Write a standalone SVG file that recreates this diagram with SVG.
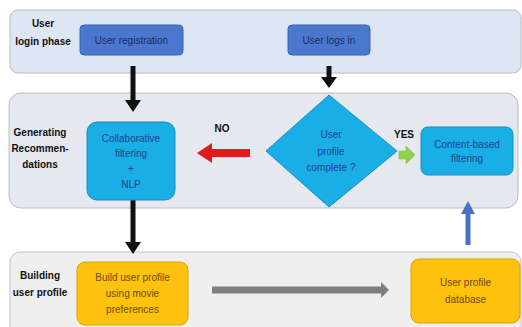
<svg xmlns="http://www.w3.org/2000/svg" width="522" height="327" viewBox="0 0 522 327">
<defs>
<style>
.lbl{font-family:"Liberation Sans",Arial,sans-serif;font-size:10px;font-weight:bold;fill:#111;text-anchor:middle}
.nt{font-family:"Liberation Sans",Arial,sans-serif;font-size:10px;text-anchor:middle}
.blue{fill:#4a78cf;stroke:#3b64b0;stroke-width:1}
.cyan{fill:#1aaee6;stroke:#1590c0;stroke-width:1}
.gold{fill:#ffc20e;stroke:#d9a300;stroke-width:1}
</style>
</defs>
<rect width="522" height="327" fill="#ffffff"/>
<g id="band-login"><rect x="10" y="10" width="511" height="63" rx="8" fill="#dfe6f3" stroke="#b8bcc4"/><text class="lbl" x="43" y="27">User</text><text class="lbl" x="43" y="45">login phase</text></g>
<g id="band-gen"><rect x="9" y="93" width="509" height="115" rx="12" fill="#e5e8ee" stroke="#b8bcc4"/><text class="lbl" x="40" y="136">Generating</text><text class="lbl" x="40" y="152">Recommen-</text><text class="lbl" x="40" y="168">dations</text></g>
<g id="band-build"><rect x="10" y="252" width="511" height="90" rx="10" fill="#efefef" stroke="#c4c4c4"/><text class="lbl" x="40" y="279">Building</text><text class="lbl" x="40" y="296">user profile</text></g>
<g id="connectors">
<path d="M130.5 66 H135.5 V100 H141 L133 112 L125 100 H130.5 Z" fill="#111"/>
<path d="M326.5 66 H331.5 V77 H337 L329 88 L321 77 H326.5 Z" fill="#111"/>
<path d="M130.5 200 H135.5 V242 H141 L133 254 L125 242 H130.5 Z" fill="#111"/>
<path d="M250 149 V157 H212 V163 L197 153 L212 143 V149 Z" fill="#e01b1b"/>
<path d="M399 151 H406 V146 L415 155 L406 164 V159 H399 Z" fill="#8fd14f" stroke="#78b83c" stroke-width="0.5"/>
<path d="M465.5 245 V214 H461 L468 201 L475 214 H470.5 V245 Z" fill="#4472c4"/>
<path d="M212 286.5 H381 V282 L389 290 L381 298 V293.5 H212 Z" fill="#7f7f7f"/>
</g>
<g id="user-registration"><rect class="blue" x="80" y="25" width="103" height="30" rx="4"/><text class="nt" x="131.5" y="44" fill="#1a2a5c">User registration</text></g>
<g id="user-logs-in"><rect class="blue" x="288" y="25" width="82" height="30" rx="4"/><text class="nt" x="329" y="44" fill="#1a2a5c">User logs in</text></g>
<g id="collaborative"><rect class="cyan" x="87" y="122" width="88" height="78" rx="10"/><text class="nt" fill="#1f3f8f"><tspan x="131" y="142">Collaborative</tspan><tspan x="131" y="157">filtering</tspan><tspan x="131" y="172">+</tspan><tspan x="131" y="188">NLP</tspan></text></g>
<g id="decision"><polygon class="cyan" points="329,95 397,151 329,207 266,151"/><text class="nt" fill="#1f3f8f"><tspan x="331" y="138">User</tspan><tspan x="331" y="155">profile</tspan><tspan x="331" y="171">complete ?</tspan></text><text class="lbl" x="222" y="132">NO</text><text class="lbl" x="404" y="138">YES</text></g>
<g id="content-based"><rect class="cyan" x="421" y="127" width="92" height="48" rx="7"/><text class="nt" fill="#1f3f8f"><tspan x="467" y="148">Content-based</tspan><tspan x="467" y="162">filtering</tspan></text></g>
<g id="build-profile"><rect class="gold" x="77" y="262" width="111" height="63" rx="8"/><text class="nt" fill="#6b4a00"><tspan x="132.5" y="281">Build user profile</tspan><tspan x="132.5" y="297">using movie</tspan><tspan x="132.5" y="313">preferences</tspan></text></g>
<g id="profile-db"><rect class="gold" x="411" y="259" width="109" height="64" rx="8"/><text class="nt" fill="#6b4a00"><tspan x="465.5" y="286">User profile</tspan><tspan x="465.5" y="303">database</tspan></text></g>
</svg>
